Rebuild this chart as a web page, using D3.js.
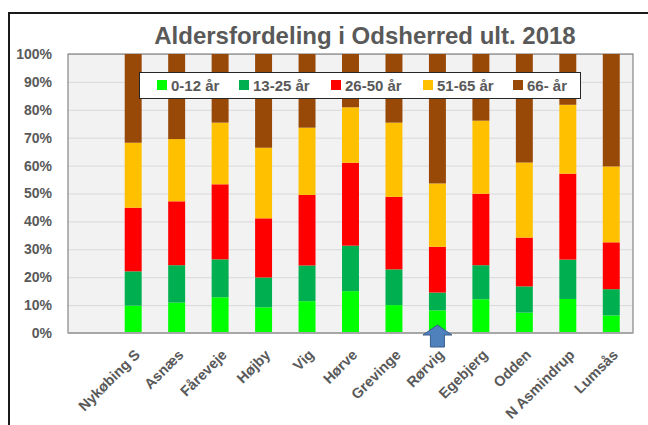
<!DOCTYPE html>
<html>
<head>
<meta charset="utf-8">
<script src="https://cdn.jsdelivr.net/npm/d3@7"></script>
<style>
  body { margin: 0; background: #fff; }
  text { font-family: "Liberation Sans", Arial, sans-serif; font-weight: bold; fill: #595959; }
</style>
</head>
<body>
<div class="container"></div>
<script>
  var width = 648,
    height = 425;

  // sogne, sorteret som i figuren
  var categories = ["Nykøbing S", "Asnæs", "Fåreveje", "Højby", "Vig", "Hørve",
    "Grevinge", "Rørvig", "Egebjerg", "Odden", "N Asmindrup", "Lumsås"];

  var ageGroups = ["0-12 år", "13-25 år", "26-50 år", "51-65 år", "66- år"];

  // andel i procent pr. aldersgruppe
  var age0_12  = [9.8, 10.9, 12.8, 9.2, 11.4, 15.0, 10.0, 8.1, 12.1, 7.3, 12.2, 6.3];
  var age13_25 = [12.3, 13.4, 13.6, 10.7, 12.8, 16.3, 12.8, 6.4, 12.2, 9.4, 14.1, 9.4];
  var age26_50 = [22.8, 22.9, 26.9, 21.2, 25.3, 29.7, 26.0, 16.4, 25.6, 17.5, 30.8, 16.8];
  var age51_65 = [23.3, 22.3, 22.1, 25.3, 24.1, 19.9, 26.6, 22.7, 26.2, 26.9, 24.7, 27.2];
  var age66    = [31.8, 30.5, 24.6, 33.6, 26.4, 19.1, 24.6, 46.4, 23.9, 38.9, 18.2, 40.3];

  var yTicks = [0, 0.1, 0.2, 0.3, 0.4, 0.5, 0.6, 0.7, 0.8, 0.9, 1];

  var colors = ["#00ff00", "#00b050", "#ff0000", "#ffc000", "#984807"];

  var marked = "Rørvig";

  var series = [age0_12, age13_25, age26_50, age51_65, age66];
  var rows = categories.map(function(c, i) {
    var r = { name: c };
    ageGroups.forEach(function(g, k) { r[g] = series[k][i]; });
    return r;
  });

  var stack = d3.stack().keys(ageGroups).offset(d3.stackOffsetExpand);
  var layers = stack(rows);

  var plot = { left: 68, right: 633, top: 54, bottom: 333 };

  var x = d3.scaleBand()
    .domain([""].concat(categories))
    .range([plot.left, plot.right])
    .paddingInner(0.61)
    .paddingOuter(0.305);

  var y = d3.scaleLinear()
    .domain([0, 1])
    .range([plot.bottom, plot.top]);

  var svg = d3.select(".container").append("svg")
    .attr("width", width)
    .attr("height", height);

  svg.append("rect")
    .attr("width", width)
    .attr("height", height)
    .attr("fill", "#fff");

  // ramme om diagrammet
  svg.append("path")
    .attr("d", "M9," + height + "V13H" + width)
    .attr("fill", "none")
    .attr("stroke", "#1a1a1a")
    .attr("stroke-width", 2);

  svg.append("text")
    .attr("x", 365)
    .attr("y", 43.5)
    .attr("text-anchor", "middle")
    .style("font-size", "24px")
    .text("Aldersfordeling i Odsherred ult. 2018");

  svg.append("rect")
    .attr("x", plot.left)
    .attr("y", plot.top)
    .attr("width", plot.right - plot.left)
    .attr("height", plot.bottom - plot.top)
    .attr("fill", "#f2f2f2");

  var yAxis = svg.append("g")
    .attr("transform", "translate(" + plot.left + ",0)")
    .call(d3.axisLeft(y).tickValues(yTicks).tickFormat(d3.format(".0%"))
      .tickSize(-(plot.right - plot.left)).tickPadding(16));

  yAxis.select(".domain").remove();
  yAxis.selectAll(".tick line").attr("stroke", "#d9d9d9");
  yAxis.selectAll(".tick text")
    .style("font-size", "14px")
    .attr("fill", "#595959");

  svg.append("rect")
    .attr("x", plot.left)
    .attr("y", plot.top)
    .attr("width", plot.right - plot.left)
    .attr("height", plot.bottom - plot.top)
    .attr("fill", "none")
    .attr("stroke", "#6e6e6e");

  var layer = svg.selectAll(".layer")
    .data(layers)
    .enter().append("g")
    .attr("class", "layer")
    .attr("fill", function(d, i) { return colors[i]; });

  layer.selectAll("rect")
    .data(function(d) { return d; })
    .enter().append("rect")
    .attr("x", function(d) { return x(d.data.name); })
    .attr("y", function(d) { return y(d[1]); })
    .attr("width", x.bandwidth())
    .attr("height", function(d) { return y(d[0]) - y(d[1]); });

  svg.append("line")
    .attr("x1", plot.left)
    .attr("x2", plot.right)
    .attr("y1", plot.bottom)
    .attr("y2", plot.bottom)
    .attr("stroke", "#a6a6a6")
    .attr("stroke-width", 2);

  var xAxis = svg.append("g")
    .attr("transform", "translate(0," + plot.bottom + ")")
    .call(d3.axisBottom(x).tickValues(categories).tickSize(0));

  xAxis.select(".domain").remove();
  xAxis.selectAll(".tick text")
    .style("font-size", "14.5px")
    .attr("fill", "#595959")
    .attr("text-anchor", "end")
    .attr("dy", "0.35em")
    .attr("transform", "translate(2,17) rotate(-45)");

  // pil under Rørvig
  var cx = x(marked) + x.bandwidth() / 2;
  svg.append("path")
    .attr("d", "M" + cx + "," + (plot.bottom - 8) +
      "L" + (cx + 14.5) + "," + (plot.bottom + 2) +
      "H" + (cx + 7) + "V" + (plot.bottom + 14) +
      "H" + (cx - 7) + "V" + (plot.bottom + 2) +
      "H" + (cx - 14.5) + "Z")
    .attr("fill", "#4f81bd")
    .attr("stroke", "#385d8a")
    .attr("stroke-width", 1);

  // forklaring
  var legend = svg.append("g");
  legend.append("rect")
    .attr("x", 139.5)
    .attr("y", 72.5)
    .attr("width", 441)
    .attr("height", 26)
    .attr("fill", "#fff")
    .attr("stroke", "#262626");

  var legendX = [157, 239, 331, 423, 513];
  var item = legend.selectAll(".item")
    .data(ageGroups)
    .enter().append("g")
    .attr("class", "item")
    .attr("transform", function(d, i) { return "translate(" + legendX[i] + ",80)"; });

  item.append("rect")
    .attr("width", 10)
    .attr("height", 10)
    .attr("fill", function(d, i) { return colors[i]; });

  item.append("text")
    .attr("x", 14)
    .attr("y", 10.5)
    .style("font-size", "15px")
    .text(function(d) { return d; });
</script>
</body>
</html>
